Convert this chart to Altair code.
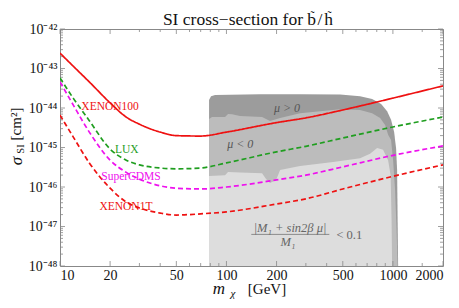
import altair as alt
import pandas as pd

# ---------------- data ----------------
masses = [10, 12, 15, 20, 25, 30, 40, 50, 70, 100, 200, 300, 500, 1000, 2000]
xenon100_exp = [-42.61, -42.94, -43.34, -43.87, -44.23, -44.41, -44.61, -44.70, -44.71, -44.61, -44.37, -44.25, -44.05, -43.75, -43.44]
lux_exp = [-43.24, -43.75, -44.32, -45.04, -45.32, -45.44, -45.52, -45.54, -45.52, -45.39, -45.11, -44.97, -44.76, -44.48, -44.23]
supercdms_exp = [-43.34, -43.92, -44.61, -45.32, -45.63, -45.80, -45.97, -46.03, -46.05, -46.00, -45.82, -45.70, -45.49, -45.20, -44.96]
xenon1t_exp = [-44.18, -44.73, -45.39, -46.03, -46.38, -46.53, -46.66, -46.71, -46.68, -46.63, -46.43, -46.30, -46.05, -45.73, -45.44]

# scan regions (upper boundaries, log10 sigma)
dark_m = [78.6, 80.8, 85.4, 159, 277, 482, 635, 750, 850, 923, 975, 1017, 1045, 1060, 1075]
dark_exp = [-43.80, -43.70, -43.67, -43.65, -43.65, -43.66, -43.70, -43.77, -43.90, -44.08, -44.30, -44.61, -45.01, -45.57, -48.0]
mid_m = [78.6, 81.9, 98.1, 102.2, 108.1, 120.7, 163.7, 173, 182.8, 210, 277, 482, 635, 750, 838, 898, 936, 975, 1003, 1031, 1052, 1067]
mid_exp = [-44.28, -44.23, -44.23, -44.15, -44.16, -44.20, -44.23, -44.28, -44.33, -44.25, -44.13, -44.03, -44.05, -44.13, -44.25, -44.43, -44.68, -44.81, -45.32, -46.08, -47.09, -48.0]
light_m = [78.6, 98.1, 102.2, 120.7, 163.7, 173, 182.8, 198.7, 210, 277, 437, 635, 729, 804, 873, 936, 969, 982, 989]
light_exp = [-45.72, -45.70, -45.62, -45.63, -45.65, -45.80, -45.90, -45.82, -45.57, -45.47, -45.37, -45.27, -45.16, -45.01, -45.06, -45.32, -45.70, -46.84, -48.0]

series_names = ["XENON100", "LUX", "SuperCDMS", "XENON1T"]
series_colors = ["#ee1111", "#1f9e1f", "#ee11ee", "#ee1111"]
series_dash = [[1, 0], [5, 3], [5, 3], [5, 3]]

# curve labels
label_text = ["XENON100", "LUX", "SuperCDMS", "XENON1T"]
label_m = [20.0, 25.2, 26.7, 24.9]
label_exp = [-43.97, -45.06, -45.74, -46.51]

# region labels
region_text = ["μ > 0", "μ < 0"]
region_m = [231, 121]
region_exp = [-44.0, -44.91]

x_major = [10, 20, 50, 100, 200, 500, 1000, 2000]
x_minor = [30, 40, 60, 70, 80, 90, 300, 400, 600, 700, 800, 900, 1500]
y_major_exp = [-48, -47, -46, -45, -44, -43, -42]
y_labels = ["10⁻⁴⁸", "10⁻⁴⁷", "10⁻⁴⁶", "10⁻⁴⁵", "10⁻⁴⁴", "10⁻⁴³", "10⁻⁴²"]
y_minor_mult = [2, 3, 4, 5, 6, 7, 8, 9]

FONT = "Liberation Serif"
W, H = 383, 237
BASE = 1e-48

# ---------------- tables ----------------
rows = []
for name, vals in zip(series_names, [xenon100_exp, lux_exp, supercdms_exp, xenon1t_exp]):
    for m, e in zip(masses, vals):
        rows.append({"exp": name, "m": m, "sigma": 10.0 ** e})
curves = pd.DataFrame(rows)


def region_df(ms, es):
    return pd.DataFrame({"m": ms, "sigma": [10.0 ** e for e in es], "base": [BASE] * len(ms)})


xs = alt.X("m:Q", scale=alt.Scale(type="log", domain=[10, 2000], nice=False),
           axis=alt.Axis(values=x_major, format="d", title=None, grid=False, ticks=False, domain=False,
                         labelFont=FONT, labelFontSize=14, labelColor="#111", labelPadding=2))
ys = alt.Y("sigma:Q", scale=alt.Scale(type="log", domain=[1e-48, 1e-42], nice=False),
           axis=alt.Axis(values=[10.0 ** e for e in y_major_exp],
                         labelExpr="[" + ",".join("'%s'" % s for s in y_labels) + "][round(log(datum.value)/LN10)+48]",
                         title=None, grid=False, ticks=False, domain=False,
                         labelFont=FONT, labelFontSize=14, labelColor="#111", labelPadding=3))


def region_layer(ms, es, color):
    return alt.Chart(region_df(ms, es)).mark_area(color=color, opacity=1, interpolate="linear").encode(
        x=xs, y=ys, y2="base:Q")


dark = region_layer(dark_m, dark_exp, "#9c9c9c")
mid = region_layer(mid_m, mid_exp, "#bcbcbc")
light = region_layer(light_m, light_exp, "#dddddd")

lines = alt.Chart(curves).mark_line(strokeWidth=1.7, interpolate="monotone", clip=True).encode(
    x=xs, y=ys,
    color=alt.Color("exp:N", scale=alt.Scale(domain=series_names, range=series_colors), legend=None),
    strokeDash=alt.StrokeDash("exp:N", scale=alt.Scale(domain=series_names, range=series_dash), legend=None),
    detail="exp:N",
)

lab_df = pd.DataFrame({"t": label_text, "m": label_m, "sigma": [10.0 ** e for e in label_exp]})
labels = alt.Chart(lab_df).mark_text(font=FONT, fontSize=11.5).encode(
    x="m:Q", y="sigma:Q", text="t:N",
    color=alt.Color("t:N", scale=alt.Scale(domain=label_text, range=series_colors), legend=None))

reg_df = pd.DataFrame({"t": region_text, "m": region_m, "sigma": [10.0 ** e for e in region_exp]})
reg_labels = alt.Chart(reg_df).mark_text(font=FONT, fontSize=12, color="#555555", fontStyle="italic").encode(
    x="m:Q", y="sigma:Q", text="t:N")

# formula annotation
formula_text = ["|M₁  +  sin2β μ|", "M₁"]
formula_m = [241, 234]
formula_exp = [-47.05, -47.39]
form_df = pd.DataFrame({"t": formula_text, "m": formula_m, "sigma": [10.0 ** e for e in formula_exp]})
formula = alt.Chart(form_df).mark_text(font=FONT, fontSize=12.5, color="#666666", fontStyle="italic").encode(
    x="m:Q", y="sigma:Q", text="t:N")
lt_df = pd.DataFrame({"t": ["<  0.1"], "m": [547], "sigma": [10.0 ** -47.22]})
lt = alt.Chart(lt_df).mark_text(font=FONT, fontSize=12.5, color="#666666").encode(
    x="m:Q", y="sigma:Q", text="t:N")
frac_df = pd.DataFrame({"m": [141], "m2": [415], "sigma": [10.0 ** -47.20]})
frac = alt.Chart(frac_df).mark_rule(color="#777777", strokeWidth=0.8).encode(x="m:Q", x2="m2:Q", y="sigma:Q")

# inward ticks on all four sides
xt = pd.DataFrame({"m": x_major + x_minor, "major": [1] * len(x_major) + [0] * len(x_minor)})
yt_vals = [10.0 ** e for e in y_major_exp] + [k * 10.0 ** e for e in y_major_exp[:-1] for k in y_minor_mult]
yt = pd.DataFrame({"sigma": yt_vals, "major": [1] * len(y_major_exp) + [0] * (len(yt_vals) - len(y_major_exp))})
tick_color = "#888888"


def xticks(df, y0, y1):
    return alt.Chart(df).mark_rule(color=tick_color, strokeWidth=0.8).encode(
        x="m:Q", y=alt.value(y0), y2=alt.value(y1))


def yticks(df, x0, x1):
    return alt.Chart(df).mark_rule(color=tick_color, strokeWidth=0.8).encode(
        y="sigma:Q", x=alt.value(x0), x2=alt.value(x1))


xmaj, xmin = xt[xt.major == 1], xt[xt.major == 0]
ymaj, ymin = yt[yt.major == 1], yt[yt.major == 0]
ticks = [
    xticks(xmaj, H, H - 5), xticks(xmin, H, H - 3), xticks(xmaj, 0, 5), xticks(xmin, 0, 3),
    yticks(ymaj, 0, 5), yticks(ymin, 0, 3), yticks(ymaj, W, W - 5), yticks(ymin, W, W - 3),
]

# titles as text
one = pd.DataFrame({"a": [0]})


def txt(s, x, y, size, angle=0, baseline="middle", style="normal", align="center", color="#111"):
    return alt.Chart(one).mark_text(text=s, font=FONT, fontSize=size, angle=angle, baseline=baseline,
                                    align=align, fontStyle=style, color=color).encode(
        x=alt.value(x), y=alt.value(y))


TB = -4  # title baseline
title = [
    txt("SI cross−section for", 243, TB, 17.5, baseline="alphabetic", align="right"),
    txt("b", 251.5, TB, 17.5, baseline="alphabetic"),
    txt("/", 260, TB, 17.5, baseline="alphabetic"),
    txt("h", 268.5, TB, 17.5, baseline="alphabetic"),
    txt("˜", 252.5, TB - 5, 12, baseline="alphabetic"),
    txt("˜", 269.5, TB - 5, 12, baseline="alphabetic"),
]
ytitle = [
    txt("σ", -43, 132, 17, angle=270, style="italic"),
    txt("SI", -39, 120, 10.5, angle=270),
    txt("[cm²]", -44, 95, 15, angle=270),
]
xtitle = [
    txt("m", 159, 265, 17, baseline="alphabetic", style="italic"),
    txt("χ", 173, 268, 11, baseline="alphabetic", style="italic"),
    txt("[GeV]", 207, 265, 15, baseline="alphabetic"),
]

chart = alt.layer(
    dark, mid, light, *ticks, lines, labels, reg_labels, formula, lt, frac, *title, *ytitle, *xtitle
).properties(
    width=W, height=H,
    autosize=alt.AutoSizeParams(type="none"),
    padding={"left": 52, "top": 21, "right": 8, "bottom": 34},
).configure_view(stroke="#888888", strokeWidth=1)

chart.save("out.html", embed_options={"renderer": "svg", "actions": False})
